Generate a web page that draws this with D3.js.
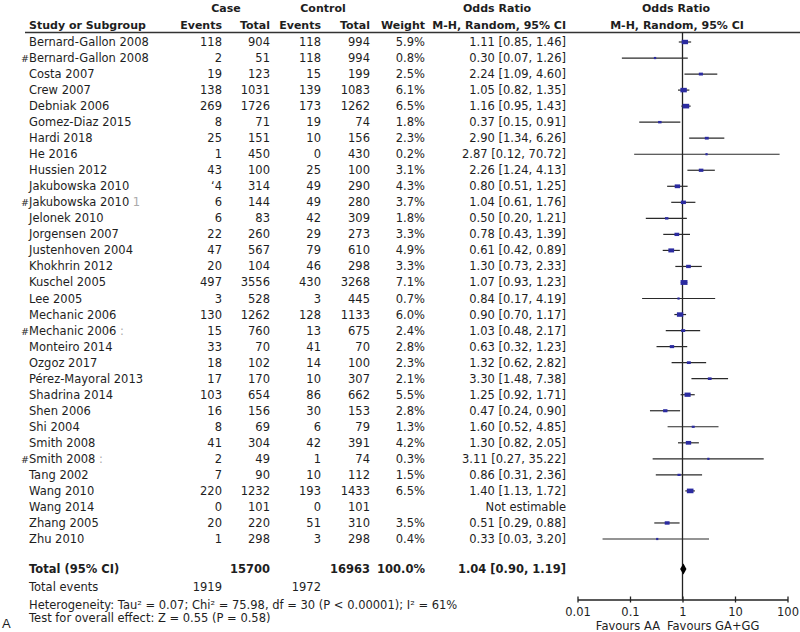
<!DOCTYPE html>
<html><head><meta charset="utf-8">
<script src="https://cdn.jsdelivr.net/npm/d3@7"></script>
<style>
body{margin:0;background:#fff;}
text{font-family:"DejaVu Sans",Verdana,sans-serif;fill:#1e1e1e;}
</style></head>
<body><svg id="c" width="800" height="632"></svg>
<script>
const studies = ["#Bernard-Gallon 2008","#Bernard-Gallon 2008","Costa 2007","Crew 2007","Debniak 2006","Gomez-Diaz 2015","Hardi 2018","He 2016","Hussien 2012","Jakubowska 2010","#Jakubowska 2010","Jelonek 2010","Jorgensen 2007","Justenhoven 2004","Khokhrin 2012","Kuschel 2005","Lee 2005","Mechanic 2006","#Mechanic 2006","Monteiro 2014","Ozgoz 2017","Pérez-Mayoral 2013","Shadrina 2014","Shen 2006","Shi 2004","Smith 2008","#Smith 2008","Tang 2002","Wang 2010","Wang 2014","Zhang 2005","Zhu 2010"];
studies[0] = "Bernard-Gallon 2008";
const nameMarks = ["","","","","","","","","","","1","","","","","","","",":","","","","","","","",":","","","","",""];
const caseEvents = ["118","2","19","138","269","8","25","1","43","‘4","6","6","22","47","20","497","3","130","15","33","18","17","103","16","8","41","2","7","220","0","20","1"];
const caseTotals = [904,51,123,1031,1726,71,151,450,100,314,144,83,260,567,104,3556,528,1262,760,70,102,170,654,156,69,304,49,90,1232,101,220,298];
const ctrlEvents = [118,118,15,139,173,19,10,0,25,49,49,42,29,79,46,430,3,128,13,41,14,10,86,30,6,42,1,10,193,0,51,3];
const ctrlTotals = [994,994,199,1083,1262,74,156,430,100,290,280,309,273,610,298,3268,445,1133,675,70,100,307,662,153,79,391,74,112,1433,101,310,298];
const weights = [5.9,0.8,2.5,6.1,6.5,1.8,2.3,0.2,3.1,4.3,3.7,1.8,3.3,4.9,3.3,7.1,0.7,6.0,2.4,2.8,2.3,2.1,5.5,2.8,1.3,4.2,0.3,1.5,6.5,null,3.5,0.4];
const oddsRatios = [1.11,0.30,2.24,1.05,1.16,0.37,2.90,2.87,2.26,0.80,1.04,0.50,0.78,0.61,1.30,1.07,0.84,0.90,1.03,0.63,1.32,3.30,1.25,0.47,1.60,1.30,3.11,0.86,1.40,null,0.51,0.33];
const ciLow = [0.85,0.07,1.09,0.82,0.95,0.15,1.34,0.12,1.24,0.51,0.61,0.20,0.43,0.42,0.73,0.93,0.17,0.70,0.48,0.32,0.62,1.48,0.92,0.24,0.52,0.82,0.27,0.31,1.13,null,0.29,0.03];
const ciHigh = [1.46,1.26,4.60,1.35,1.43,0.91,6.26,70.72,4.13,1.25,1.76,1.21,1.39,0.89,2.33,1.23,4.19,1.17,2.17,1.23,2.82,7.38,1.71,0.90,4.85,2.05,35.22,2.36,1.72,null,0.88,3.20];
const total = {caseTotal:15700, ctrlTotal:16963, weight:"100.0%", or:1.04, lo:0.90, hi:1.19, caseEvents:1919, ctrlEvents:1972};
const axisTicks = [0.01,0.1,1,10,100];
const tickLabels = ["0.01","0.1","1","10","100"];

const svg = d3.select("#c");
const FS = 11.5;
const colX = {name:29, ce:222, ct:270, ee:321, et:370, w:425, orTxt:566};
const x = d3.scaleLog().domain([0.01,100]).range([577.5,787.5]);
const y = d3.scalePoint().domain(d3.range(studies.length)).range([42,539]);
const base = 4; // baseline offset from row centre

function txt(xp, yp, s, anchor, bold, size){
  return svg.append("text").attr("x",xp).attr("y",yp).attr("text-anchor",anchor||"start")
    .attr("font-size",size||FS).attr("font-weight",bold?"bold":"normal").text(s);
}

// headers
txt(226,12,"Case","middle",true,11);
txt(323,12,"Control","middle",true,11);
txt(497,12,"Odds Ratio","middle",true,11);
txt(676,12,"Odds Ratio","middle",true,11);
txt(colX.name,29,"Study or Subgroup","start",true,11);
txt(colX.ce,29,"Events","end",true,11);
txt(colX.ct,29,"Total","end",true,11);
txt(colX.ee,29,"Events","end",true,11);
txt(colX.et,29,"Total","end",true,11);
txt(colX.w,29,"Weight","end",true,11);
txt(colX.orTxt,29,"M-H, Random, 95% CI","end",true,11);
txt(677,29,"M-H, Random, 95% CI","middle",true,11);
svg.append("line").attr("x1",25).attr("x2",800).attr("y1",32.5).attr("y2",32.5)
  .attr("stroke","#333").attr("stroke-width",1.3);

// rows
studies.forEach((s,i)=>{
  const yy = y(i)+base;
  let nm = s;
  if (nm.startsWith("#")) {
    txt(colX.name,yy,"#","end",false,9.5);
    nm = nm.slice(1);
  }
  const t = txt(colX.name,yy,nm,"start");
  if (nameMarks[i]) t.append("tspan").attr("fill","#aaa").text(" "+nameMarks[i]);
  txt(colX.ce,yy,caseEvents[i],"end");
  txt(colX.ct,yy,caseTotals[i],"end");
  txt(colX.ee,yy,ctrlEvents[i],"end");
  txt(colX.et,yy,ctrlTotals[i],"end");
  if (weights[i]!=null) txt(colX.w,yy,weights[i].toFixed(1)+"%","end");
  if (oddsRatios[i]!=null)
    txt(colX.orTxt,yy,`${oddsRatios[i].toFixed(2)} [${ciLow[i].toFixed(2)}, ${ciHigh[i].toFixed(2)}]`,"end");
  else txt(colX.orTxt,yy,"Not estimable","end");
});

// vertical line of no effect
svg.append("line").attr("x1",x(1)).attr("x2",x(1)).attr("y1",32.5).attr("y2",599.5)
  .attr("stroke","#222").attr("stroke-width",1.3);

// CIs and squares
const g = svg.append("g");
studies.forEach((s,i)=>{
  if (oddsRatios[i]==null) return;
  g.append("line").attr("x1",x(ciLow[i])).attr("x2",x(ciHigh[i])).attr("y1",y(i)).attr("y2",y(i))
    .attr("stroke","#2a2a2a").attr("stroke-width",1.2);
  const side = Math.max(2.2, 2.6*Math.sqrt(weights[i]));
  const h = Math.max(2.2, side*0.7);
  g.append("rect").attr("x",x(oddsRatios[i])-side/2).attr("y",y(i)-h/2)
    .attr("width",side).attr("height",h).attr("fill","#2b2ba0");
});

// totals
const yT = 569, yE = 587, yH = 605, yZ = 618;
txt(colX.name,yT+base,"Total (95% CI)","start",true);
txt(colX.ct,yT+base,total.caseTotal,"end",true);
txt(colX.et,yT+base,total.ctrlTotal,"end",true);
txt(colX.w,yT+base,total.weight,"end",true);
txt(colX.orTxt,yT+base,`${total.or.toFixed(2)} [${total.lo.toFixed(2)}, ${total.hi.toFixed(2)}]`,"end",true);
svg.append("path").attr("d",`M${x(total.lo)},${yT} L${x(total.or)},${yT-5.5} L${x(total.hi)},${yT} L${x(total.or)},${yT+5.5} Z`)
  .attr("fill","#000");
txt(colX.name,yE+base,"Total events","start");
txt(colX.ce,yE+base,total.caseEvents,"end");
txt(colX.ee,yE+base,total.ctrlEvents,"end");
txt(colX.name,yH+base,"Heterogeneity: Tau² = 0.07; Chi² = 75.98, df = 30 (P < 0.00001); I² = 61%","start");
txt(colX.name,yZ+base,"Test for overall effect: Z = 0.55 (P = 0.58)","start");
svg.append("text").attr("x",2).attr("y",628).attr("font-family","Liberation Sans, Arial, sans-serif")
  .attr("font-size",13).style("font-family","Liberation Sans, Arial, sans-serif").text("A");

// axis
const ax = svg.append("g").attr("transform","translate(0,599.5)")
  .call(d3.axisBottom(x).tickValues(axisTicks).tickSize(3).tickPadding(5.5)
    .tickFormat((d,i)=>tickLabels[i]).tickSizeOuter(0));
ax.select(".domain").attr("stroke","#222").attr("stroke-width",1.3);
ax.selectAll(".tick line").attr("y1",-3).attr("stroke","#222").attr("stroke-width",1.3);
ax.selectAll(".tick text").attr("font-size",FS).attr("font-family","DejaVu Sans, sans-serif").attr("fill","#1e1e1e");
txt(660,630,"Favours AA","end");
txt(667,630,"Favours GA+GG","start");
</script></body></html>
